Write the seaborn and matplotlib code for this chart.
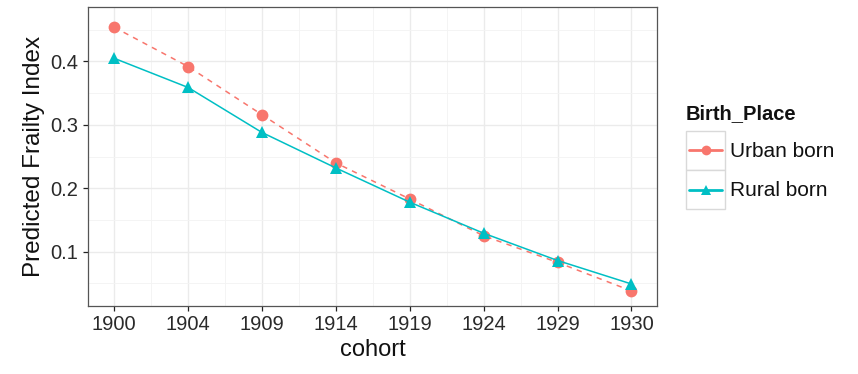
import numpy as np
import pandas as pd
import matplotlib
matplotlib.use('Agg')
import matplotlib.pyplot as plt
import seaborn as sns
from matplotlib.lines import Line2D
from matplotlib.patches import Rectangle

cohorts = ['1900', '1904', '1909', '1914', '1919', '1924', '1929', '1930']
urban = [0.454, 0.392, 0.316, 0.240, 0.183, 0.125, 0.083, 0.038]
rural = [0.405, 0.359, 0.288, 0.232, 0.178, 0.129, 0.086, 0.049]
places = ['Urban born', 'Rural born']
colors = ['#F8766D', '#00BFC4']
y_ticks = [0.1, 0.2, 0.3, 0.4]
y_tick_labels = ['0.1', '0.2', '0.3', '0.4']

sns.set_theme(style='white')
plt.rcParams['font.family'] = ['Liberation Sans', 'DejaVu Sans']

pos = list(range(1, len(cohorts) + 1))
df = pd.DataFrame({
    'pos': pos * 2,
    'cohort': cohorts * 2,
    'val': urban + rural,
    'Birth_Place': [places[0]] * len(urban) + [places[1]] * len(rural),
})

W, H = 858, 374
fig = plt.figure(figsize=(W / 100, H / 100), dpi=100)
fig.patch.set_facecolor('white')
L, R, T, B = 88.3, 657.3, 6.7, 305.7
ax = fig.add_axes([L / W, 1 - B / H, (R - L) / W, (B - T) / H])

sns.lineplot(data=df, x='pos', y='val', hue='Birth_Place', style='Birth_Place',
             hue_order=places, style_order=places, palette=colors,
             markers={places[0]: 'o', places[1]: '^'},
             dashes={places[0]: (3.5, 3.5), places[1]: ''},
             markersize=8.5, markeredgewidth=0, linewidth=1.1, legend=False, ax=ax)

ax.set_xlim(0.65, 8.35)
ax.set_ylim(0.0147, 0.4864)
ax.set_xticks(pos)
ax.set_xticklabels(cohorts)
ax.set_yticks(y_ticks)
ax.set_yticklabels(y_tick_labels)
ax.set_xticks([p + 0.5 for p in pos[:-1]], minor=True)
ax.set_yticks([0.05, 0.15, 0.25, 0.35, 0.45], minor=True)
ax.grid(which='major', color='#EBEBEB', linewidth=1.0)
ax.grid(which='minor', color='#F3F3F3', linewidth=0.6)
ax.set_axisbelow(True)
ax.tick_params(which='major', length=3.5, width=0.9, color='#222222',
               labelsize=14.5, labelcolor='#2a2a2a', pad=3.5, bottom=True, left=True)
ax.tick_params(which='minor', length=0)
for s in ax.spines.values():
    s.set_color('#555555')
    s.set_linewidth(0.9)
ax.set_xlabel('cohort', fontsize=17, color='#111111', labelpad=3)
ax.set_ylabel('Predicted Frailty Index', fontsize=17.5, color='#111111', labelpad=4)

# legend (ggplot-like, drawn in pixel coordinates)
def px(x, y):
    return x / W, 1 - y / H

fig.text(*px(686, 114), 'Birth_Place', fontsize=14.5, fontweight='bold',
         ha='left', va='center', color='#111111')
key_y = [150.5, 189.5]
for i, (lab, col, mk) in enumerate(zip(places, colors, ['o', '^'])):
    y0 = 131 + i * 39
    x0, y_top = px(686, y0)
    fig.patches.append(Rectangle((x0, y_top - 39 / H), 39 / W, 39 / H,
                                 transform=fig.transFigure, facecolor='white',
                                 edgecolor='#D9D9D9', linewidth=1.0))
    xa, ya = px(689, key_y[i])
    xb, _ = px(722, key_y[i])
    fig.lines.append(Line2D([xa, xb], [ya, ya], transform=fig.transFigure,
                            color=col, linewidth=2.0, linestyle='-'))
    xm, _ = px(705.5, key_y[i])
    fig.lines.append(Line2D([xm], [ya], transform=fig.transFigure, color=col,
                            marker=mk, markersize=7, markeredgewidth=0))
    fig.text(*px(730, key_y[i] + 1), lab, fontsize=15, ha='left', va='center',
             color='#111111')

fig.savefig('out.png', dpi=100)
